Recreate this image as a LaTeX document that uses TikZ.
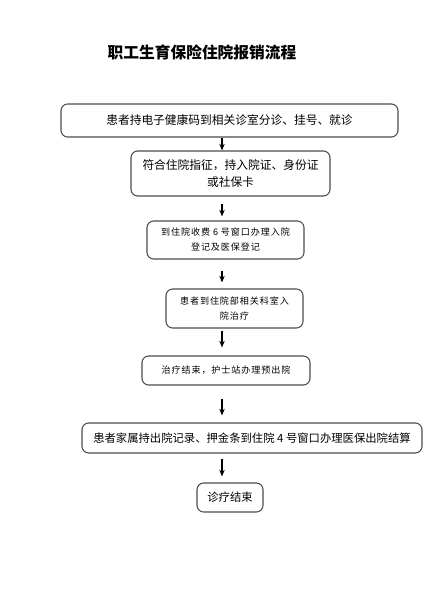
\documentclass[tikz,border=0pt]{standalone}
\usepackage{fontspec}
\newfontfamily\cjk{Noto Sans CJK SC}
\usetikzlibrary{arrows.meta}

\begin{document}
\begin{tikzpicture}[x=0.75pt, y=-0.75pt,
    stepbox/.style={draw=black!70, line width=0.8pt, rounded corners=5pt, inner sep=0pt, align=center,
        font=\cjk\fontsize{8.8}{12.75}\selectfont},
    smallbox/.style={stepbox, font=\cjk\addfontfeature{LetterSpace=10}\fontsize{6.8}{11.25}\selectfont},
    flow/.style={-{Stealth[length=5pt, width=4pt]}, line width=0.8pt}]

        \useasboundingbox (0,0) rectangle (435,609);

        % Title
        \node[font=\cjk\bfseries\fontsize{11.8}{14}\selectfont] (title) at (202,52) {职工生育保险住院报销流程};

        % Steps
        \node[stepbox, minimum width=252.75pt, minimum height=24.75pt] (visit) at (229.5,120.5) {患者持电子健康码到相关诊室分诊、挂号、就诊};
        \node[stepbox, minimum width=149.25pt, minimum height=33.75pt] (admit) at (230.5,173.5) {符合住院指征，持入院证、身份证\\或社保卡};
        \node[smallbox, minimum width=117.75pt, minimum height=28.5pt] (register) at (225.5,240) {到住院收费 6 号窗口办理入院\\登记及医保登记};
        \node[smallbox, minimum width=102.75pt, minimum height=29.25pt] (ward) at (234.5,308.5) {患者到住院部相关科室入\\院治疗};
        \node[smallbox, minimum width=126pt, minimum height=21.75pt] (discharge) at (226,370.5) {治疗结束，护士站办理预出院};
        \node[stepbox, minimum width=255pt, minimum height=22.5pt, font=\cjk\fontsize{8.5}{12}\selectfont] (settle) at (252,438) {患者家属持出院记录、押金条到住院 4 号窗口办理医保出院结算};
        \node[stepbox, minimum width=49.5pt, minimum height=21.75pt, font=\cjk\fontsize{8.5}{12}\selectfont] (done) at (230,497.5) {诊疗结束};

        % Arrows
        \coordinate (col) at (222,0);
        \draw[flow] (visit.south -| col) -- (admit.north -| col);
        \draw[flow, shorten <=5.25pt, shorten >=3pt] (admit.south -| col) -- (register.north -| col);
        \draw[flow, shorten <=8.25pt, shorten >=4.5pt] (register.south -| col) -- (ward.north -| col);
        \draw[flow, shorten <=1.5pt, shorten >=6pt] (ward.south -| col) -- (discharge.north -| col);
        \draw[flow, shorten <=9.75pt, shorten >=5.25pt] (discharge.south -| col) -- (settle.north -| col);
        \draw[flow, shorten <=3.75pt, shorten >=4.5pt] (settle.south -| col) -- (done.north -| col);

    \end{tikzpicture}
\end{document}
